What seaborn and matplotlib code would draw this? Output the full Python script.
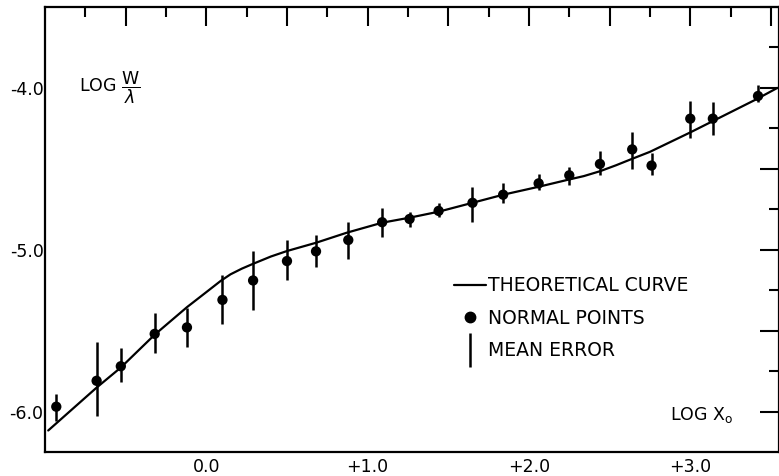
import matplotlib
matplotlib.use("Agg")
import matplotlib.pyplot as plt
import seaborn as sns
from matplotlib.lines import Line2D
from matplotlib.ticker import FixedLocator, MultipleLocator

# theoretical curve of growth
curve_x = [-0.98, -0.68, -0.53, -0.32, -0.12, 0.00, 0.09, 0.15, 0.22, 0.29, 0.40, 0.50,
           0.68, 0.87, 1.09, 1.26, 1.44, 1.65, 1.84, 2.06, 2.24, 2.34, 2.44, 2.54,
           2.63, 2.75, 3.00, 3.13, 3.41, 3.54]
curve_y = [-6.117, -5.852, -5.728, -5.525, -5.355, -5.262, -5.192, -5.152, -5.117, -5.087,
           -5.042, -5.008, -4.957, -4.895, -4.833, -4.802, -4.765, -4.710, -4.660, -4.611,
           -4.568, -4.545, -4.515, -4.478, -4.442, -4.395, -4.275, -4.210, -4.070, -4.000]

# normal points with mean error (upper / lower end of each bar)
pt_x = [-0.93, -0.68, -0.53, -0.32, -0.12, 0.10, 0.29, 0.50, 0.68, 0.88, 1.09, 1.26,
        1.44, 1.65, 1.84, 2.06, 2.25, 2.44, 2.64, 2.76, 3.00, 3.14, 3.42]
pt_y = [-5.97, -5.81, -5.72, -5.52, -5.48, -5.31, -5.19, -5.07, -5.01, -4.94, -4.83, -4.81,
        -4.76, -4.71, -4.66, -4.59, -4.54, -4.47, -4.38, -4.48, -4.19, -4.19, -4.05]
err_hi = [-5.89, -5.57, -5.61, -5.39, -5.36, -5.155, -5.01, -4.94, -4.91, -4.83, -4.74, -4.765,
          -4.71, -4.61, -4.59, -4.53, -4.49, -4.39, -4.27, -4.40, -4.08, -4.09, -3.98]
err_lo = [-6.06, -6.03, -5.82, -5.64, -5.60, -5.46, -5.37, -5.19, -5.105, -5.06, -4.92, -4.86,
          -4.80, -4.83, -4.71, -4.63, -4.60, -4.54, -4.50, -4.54, -4.31, -4.29, -4.09]

x_ticks = [0.0, 1.0, 2.0, 3.0]
x_labels = ["0.0", "+1.0", "+2.0", "+3.0"]
y_ticks = [-6.0, -5.0, -4.0]
y_labels = ["-6.0", "-5.0", "-4.0"]
legend_labels = ["THEORETICAL CURVE", "NORMAL POINTS", "MEAN ERROR"]


def main() -> None:
    sns.set_style("white")
    plt.rcParams["font.family"] = ["DejaVu Sans"]
    plt.rcParams["axes.unicode_minus"] = False
    for key in ["text.color", "axes.labelcolor", "xtick.color", "ytick.color", "axes.edgecolor"]:
        plt.rcParams[key] = "black"

    fig = plt.figure(figsize=(7.79, 4.76), dpi=100)
    ax = fig.add_axes([45 / 779, 24 / 476, 734 / 779, 445 / 476])

    sns.lineplot(x=curve_x, y=curve_y, color="black", linewidth=1.6, ax=ax)
    ax.vlines(pt_x, err_lo, err_hi, color="black", linewidth=1.8)
    sns.scatterplot(x=pt_x, y=pt_y, color="black", s=55, edgecolor="none", ax=ax, zorder=3)

    ax.set_xlim(-1.0, 3.55)
    ax.set_ylim(-6.25, -3.5)

    ax.xaxis.set_major_locator(FixedLocator([-0.5, 0.0, 0.5, 1.0, 1.5, 2.0, 2.5, 3.0, 3.5]))
    ax.xaxis.set_minor_locator(FixedLocator([-0.75, -0.25, 0.25, 0.75, 1.25, 1.75, 2.25, 2.75, 3.25]))
    ax.yaxis.set_major_locator(MultipleLocator(0.5))
    ax.yaxis.set_minor_locator(FixedLocator([-6.0 + 0.25 + 0.5 * i for i in range(5)]))

    xl = {t: l for t, l in zip(x_ticks, x_labels)}
    yl = {t: l for t, l in zip(y_ticks, y_labels)}
    ax.set_xticklabels([xl.get(t, "") for t in ax.get_xticks()])
    ax.set_yticklabels([yl.get(t, "") for t in ax.get_yticks()])

    ax.tick_params(which="both", direction="in", top=True, right=True, width=1.5,
                   color="black", labelcolor="black", labelsize=12.5)
    ax.tick_params(which="major", length=14)
    ax.tick_params(which="minor", length=7.5)
    ax.tick_params(axis="x", pad=4)
    ax.tick_params(axis="y", pad=1)
    for sp in ax.spines.values():
        sp.set_linewidth(1.6)
        sp.set_color("black")

    ax.text(0.046, 0.818, r"LOG $\dfrac{\mathrm{W}}{\lambda}$", transform=ax.transAxes,
            va="center", ha="left", fontsize=12.5)
    ax.text(0.851, 0.083, r"LOG X$_\mathrm{o}$", transform=ax.transAxes,
            va="center", ha="left", fontsize=12.5)

    handles = [
        Line2D([], [], color="black", linewidth=1.6),
        Line2D([], [], marker="o", color="black", linestyle="", markersize=7.5),
        Line2D([], [], marker="|", color="black", linestyle="", markersize=25,
               markeredgewidth=1.8),
    ]
    ax.legend(handles, legend_labels, loc="upper left", bbox_to_anchor=(0.557, 0.395),
              frameon=False, fontsize=13.5, handlelength=1.7, handletextpad=0.1,
              labelspacing=0.72, borderaxespad=0, borderpad=0)

    fig.savefig("out.png", dpi=100)
    plt.close(fig)


if __name__ == "__main__":
    main()
